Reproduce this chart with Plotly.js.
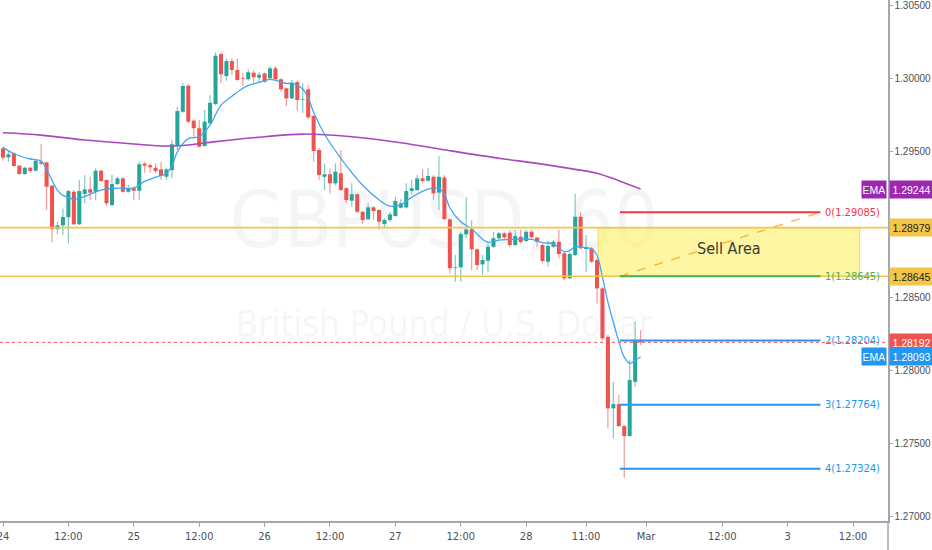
<!DOCTYPE html>
<html><head><meta charset="utf-8">
<script src="https://cdn.plot.ly/plotly-3.0.1.min.js"></script>
<style>html,body{margin:0;padding:0;background:#fff;}#chart{width:932px;height:550px;}</style>
</head><body><div id="chart"></div>
<script>
// ---- DATA (hourly GBPUSD bars) ----
const barOpen = [1.29523,1.29462,1.29489,1.29404,1.29347,1.29390,1.29370,1.29431,1.29427,1.29267,
1.28969,1.28995,1.29050,1.29225,1.29002,1.29210,1.29242,1.29225,1.29370,1.29306,
1.29134,1.29278,1.29317,1.29225,1.29249,1.29232,1.29418,1.29407,1.29390,1.29379,
1.29328,1.29374,1.29539,1.29774,1.29953,1.29713,1.29661,1.29539,1.29695,1.29827,
1.30170,1.30019,1.30122,1.30061,1.30004,1.29997,1.30042,1.30008,1.30038,1.30004,
1.30072,1.29997,1.29935,1.29866,1.29978,1.29855,1.29928,1.29745,1.29512,1.29328,
1.29345,1.29283,1.29352,1.29249,1.29164,1.29208,1.29088,1.29036,1.29118,1.29100,
1.29004,1.29031,1.29059,1.29116,1.29118,1.29230,1.29237,1.29317,1.29301,1.29328,
1.29219,1.29323,1.29036,1.28704,1.28707,1.28933,1.28967,1.28830,1.28727,1.28752,
1.28848,1.28906,1.28940,1.28944,1.28860,1.28917,1.28887,1.28951,1.28910,1.28860,
1.28745,1.28848,1.28882,1.28803,1.28631,1.28791,1.29054,1.28832,1.28837,1.28757,
1.28562,1.28230,1.27739,1.27768,1.27617,1.27549,1.27921,1.28203];
const barHigh = [1.29534,1.29500,1.29496,1.29409,1.29397,1.29397,1.29443,1.29553,1.29431,1.29271,
1.29020,1.29111,1.29237,1.29237,1.29306,1.29340,1.29328,1.29386,1.29374,1.29311,
1.29340,1.29328,1.29324,1.29271,1.29260,1.29431,1.29431,1.29420,1.29420,1.29431,
1.29386,1.29580,1.29809,1.29969,1.29965,1.29722,1.29717,1.29786,1.29889,1.30182,
1.30182,1.30141,1.30141,1.30141,1.30038,1.30066,1.30061,1.30049,1.30042,1.30088,
1.30088,1.30004,1.29942,1.29992,1.29987,1.29969,1.29958,1.29752,1.29525,1.29420,
1.29386,1.29420,1.29512,1.29256,1.29283,1.29214,1.29093,1.29146,1.29127,1.29105,
1.29043,1.29088,1.29191,1.29173,1.29283,1.29306,1.29340,1.29379,1.29386,1.29340,
1.29470,1.29340,1.29043,1.28791,1.28951,1.29187,1.29031,1.28837,1.28791,1.28871,
1.28951,1.28951,1.28951,1.28963,1.28963,1.28967,1.28963,1.28967,1.28917,1.28871,
1.28887,1.28894,1.28963,1.28814,1.28814,1.29210,1.29084,1.28928,1.28848,1.28770,
1.28573,1.28242,1.27921,1.27830,1.27624,1.28070,1.28333,1.28276];
const barLow = [1.29438,1.29431,1.29397,1.29340,1.29340,1.29356,1.29363,1.29409,1.29100,1.28878,
1.28933,1.28928,1.28871,1.28997,1.28997,1.29146,1.29168,1.29168,1.29294,1.29127,
1.29127,1.29271,1.29219,1.29219,1.29168,1.29168,1.29356,1.29356,1.29352,1.29306,
1.29306,1.29319,1.29512,1.29768,1.29695,1.29603,1.29530,1.29534,1.29690,1.29820,
1.29969,1.29987,1.30026,1.29987,1.29951,1.29987,1.29969,1.29973,1.29973,1.29997,
1.29992,1.29912,1.29814,1.29860,1.29781,1.29768,1.29722,1.29431,1.29306,1.29237,
1.29214,1.29271,1.29232,1.29146,1.29122,1.29077,1.29004,1.29031,1.29031,1.28963,
1.28974,1.29020,1.29054,1.29111,1.29111,1.29203,1.29232,1.29283,1.29294,1.29168,
1.29100,1.29031,1.28665,1.28608,1.28608,1.28906,1.28688,1.28688,1.28654,1.28676,
1.28837,1.28894,1.28899,1.28848,1.28853,1.28871,1.28882,1.28899,1.28848,1.28734,
1.28711,1.28837,1.28768,1.28619,1.28624,1.28784,1.28830,1.28676,1.28738,1.28459,
1.28208,1.27602,1.27533,1.27611,1.27263,1.27542,1.27887,1.28173];
const barClose = [1.29459,1.29482,1.29402,1.29347,1.29390,1.29368,1.29438,1.29418,1.29260,1.28969,
1.28995,1.29052,1.29230,1.29002,1.29230,1.29242,1.29219,1.29370,1.29299,1.29146,
1.29278,1.29317,1.29225,1.29249,1.29232,1.29414,1.29404,1.29393,1.29368,1.29333,
1.29379,1.29551,1.29779,1.29951,1.29706,1.29661,1.29534,1.29706,1.29836,1.30159,
1.30031,1.30122,1.30061,1.29992,1.29999,1.30045,1.30011,1.30028,1.29980,1.30072,
1.29997,1.29928,1.29866,1.29973,1.29855,1.29860,1.29736,1.29505,1.29340,1.29345,
1.29283,1.29363,1.29237,1.29168,1.29208,1.29088,1.29031,1.29118,1.29093,1.29020,
1.29031,1.29070,1.29162,1.29146,1.29230,1.29249,1.29317,1.29299,1.29333,1.29214,
1.29328,1.29038,1.28700,1.28709,1.28935,1.28967,1.28830,1.28722,1.28757,1.28848,
1.28906,1.28940,1.28913,1.28860,1.28922,1.28880,1.28951,1.28913,1.28882,1.28750,
1.28853,1.28882,1.28798,1.28631,1.28798,1.29054,1.28837,1.28846,1.28745,1.28562,
1.28219,1.27739,1.27768,1.27617,1.27549,1.27933,1.28203,1.28192];

// fast EMA (blue) and slow EMA (purple) read at selected bars
const emaFastBars = [0,2,5,7,8,10,11,13,15,18,21,24,26,28,30,31,32,34,36,38,40,42,44,45,47,49,51,52,53,55,56,57,59,62,66,69,71,73,75,78,80,81,82,84,86,88,89,91,94,97,99,101,103,104,105,107,108,109,110,111,112,113,114,115,116,117];
const emaFast = [1.29530,1.29486,1.29450,1.29436,1.29378,1.29235,1.29200,1.29175,1.29193,1.29237,1.29250,1.29252,1.29296,1.29325,1.29352,1.29400,1.29500,1.29590,1.29603,1.29683,1.29820,1.29880,1.29935,1.29955,1.29975,1.29997,1.29980,1.29968,1.29970,1.29930,1.29870,1.29770,1.29620,1.29455,1.29270,1.29170,1.29127,1.29136,1.29188,1.29244,1.29249,1.29210,1.29114,1.29020,1.28970,1.28900,1.28878,1.28893,1.28899,1.28899,1.28876,1.28868,1.28815,1.28822,1.28848,1.28841,1.28833,1.28790,1.28640,1.28470,1.28330,1.28200,1.28090,1.28048,1.28068,1.28093];
const emaSlowBars = [0,7,15,24,30,34,39,48,55,64,73,82,91,98,105,109,113,117];
const emaSlow = [1.29630,1.29614,1.29580,1.29553,1.29539,1.29546,1.29569,1.29603,1.29621,1.29603,1.29562,1.29507,1.29455,1.29420,1.29379,1.29352,1.29301,1.29244];

const tickBars = [0,12,24,36,48,60,72,84,96,107,118,132,144,156];
const tickLabels = ['24','12:00','25','12:00','26','12:00','27','12:00','28','11:00','Mar','12:00','3','12:00'];
const priceTicks = [1.270,1.275,1.280,1.285,1.295,1.300,1.305];

const sellZone = [1.28645, 1.28979];
const sellZoneBars = [109.2, 157.2];
const sellLabel = 'Sell Area';
const fibLevels = [1.29085, 1.28645, 1.28204, 1.27764, 1.27324];
const fibNames = ['0','1','2','3','4'];
const fibBars = [113.2, 150.0];
const lastPrice = 1.28192;
const emaSlowLast = 1.29244;
const emaFastLast = 1.28093;
const watermark = ['GBPUSD, 60', 'British Pound / U.S. Dollar'];

// ---- STYLE ----
const NARROW = "'DejaVu Sans Condensed','Liberation Sans Narrow','Liberation Sans',Arial,sans-serif";
const NUM = "'Liberation Sans Narrow','Liberation Sans',Arial,sans-serif";
const UP = '#26a69a', DOWN = '#ef5350';
const UP_WICK = '#7ccbc3', DOWN_WICK = '#f59a98';
const GOLD = '#f3c548';
const fibColors = ['#f23645', '#4caf50', '#2196f3', '#2196f3', '#2196f3'];
const AXIS = '#a3a6af', TXT = '#4c4f57';

const barIndex = barOpen.map((_, i) => i);
const isUp = barOpen.map((o, i) => barClose[i] >= o);
const bodyBase = barOpen.map((o, i) => Math.min(o, barClose[i]));
const bodyLen = barOpen.map((o, i) => Math.max(Math.abs(barClose[i] - o), 0.000012));
const wickLen = barHigh.map((h, i) => h - barLow[i]);

const traces = [
  {type:'scatter', mode:'lines', x: emaSlowBars, y: emaSlow, line:{color:'#ab47bc', width:1.6, shape:'spline'}, hoverinfo:'skip'},
  {type:'bar', name:'wick', x: barIndex, base: barLow, y: wickLen, width:0.22,
   marker:{color: isUp.map(u => u ? UP_WICK : DOWN_WICK), line:{width:0}}, hoverinfo:'skip'},
  {type:'bar', name:'body', x: barIndex, base: bodyBase, y: bodyLen, width:0.74,
   marker:{color: isUp.map(u => u ? UP : DOWN), line:{width:0}}, hoverinfo:'skip'},
  {type:'scatter', mode:'lines', x: emaFastBars, y: emaFast, line:{color:'#42a5f5', width:1.3, shape:'spline'}, hoverinfo:'skip'}
];

const shapes = [];
// watermark (below everything)
shapes.push({type:'rect', xref:'paper', yref:'paper', x0:0.15, x1:0.85, y0:0.50, y1:0.68, layer:'below',
  line:{width:0}, fillcolor:'rgba(0,0,0,0)',
  label:{text:watermark[0], textposition:'middle center', font:{family:NARROW, size:78, color:'rgba(120,123,134,0.08)'}}});
shapes.push({type:'rect', xref:'paper', yref:'paper', x0:0.15, x1:0.85, y0:0.34, y1:0.43, layer:'below',
  line:{width:0}, fillcolor:'rgba(0,0,0,0)',
  label:{text:watermark[1], textposition:'middle center', font:{family:NARROW, size:36, color:'rgba(120,123,134,0.08)'}}});
// sell area
shapes.push({type:'rect', xref:'x', yref:'y', x0:sellZoneBars[0], x1:sellZoneBars[1], y0:sellZone[0], y1:sellZone[1],
  layer:'below', fillcolor:'rgba(255,238,88,0.55)', line:{color:'#f7d94c', width:1}});
// gold horizontal levels
sellZone.forEach(v => shapes.push({type:'line', xref:'paper', yref:'y', x0:0, x1:1, y0:v, y1:v, line:{color:GOLD, width:1.6}}));
// last price dotted line
shapes.push({type:'line', xref:'paper', yref:'y', x0:0, x1:1, y0:lastPrice, y1:lastPrice, line:{color:DOWN, width:1, dash:'dot'}});
// fib trend line
shapes.push({type:'line', xref:'x', yref:'y', x0:fibBars[0], x1:fibBars[1], y0:fibLevels[1], y1:fibLevels[0],
  line:{color:'#f5b335', width:1.3, dash:'dash'}});
// fib levels
fibLevels.forEach((v, k) => shapes.push({type:'line', xref:'x', yref:'y', x0:fibBars[0], x1:fibBars[1], y0:v, y1:v,
  line:{color:fibColors[k], width:2}}));
// axis line extension
shapes.push({type:'line', xref:'paper', yref:'paper', x0:1, x1:1, y0:-0.06, y1:0, line:{color:AXIS, width:1.5}});

const annotations = [];
annotations.push({xref:'x', yref:'y', x:(sellZoneBars[0]+sellZoneBars[1])/2, y:(sellZone[0]+sellZone[1])/2, yshift:3,
  text:sellLabel, showarrow:false, font:{family:NARROW, size:16, color:'#3a3a3a'}});
fibLevels.forEach((v, k) => annotations.push({xref:'x', yref:'y', x:fibBars[1], y:v, xanchor:'left', xshift:3,
  text:fibNames[k] + '(' + v.toFixed(5) + ')', showarrow:false, font:{family:NARROW, size:11, color:fibColors[k]}}));

function priceBox(v, bg, fg) {
  annotations.push({xref:'paper', yref:'y', x:1, y:v, xanchor:'left', xshift:1, yanchor:'middle',
    text:v.toFixed(5), showarrow:false, bgcolor:bg, width:41, height:15, borderpad:1, align:'center',
    font:{family:NUM, size:10.5, color:fg}});
}
function emaTag(v, bg) {
  annotations.push({xref:'paper', yref:'y', x:1, y:v, xanchor:'right', xshift:-1, yanchor:'middle',
    text:'EMA', showarrow:false, bgcolor:bg, width:22, height:15, borderpad:1, align:'center',
    font:{family:NUM, size:10.5, color:'#ffffff'}});
}
priceBox(emaSlowLast, '#9c27b0', '#ffffff'); emaTag(emaSlowLast, '#9c27b0');
priceBox(sellZone[1], GOLD, '#1e1e1e');
priceBox(sellZone[0], GOLD, '#1e1e1e');
priceBox(lastPrice, DOWN, '#ffffff');
priceBox(emaFastLast, '#2196f3', '#ffffff'); emaTag(emaFastLast, '#2196f3');

const layout = {
  width:932, height:550,
  margin:{l:0, r:44, t:0, b:29},
  paper_bgcolor:'#ffffff', plot_bgcolor:'#ffffff',
  showlegend:false, dragmode:false, hovermode:false, barmode:'overlay',
  xaxis:{type:'linear', range:[-0.55, 162.4], rangeslider:{visible:false},
    tickmode:'array', tickvals:tickBars, ticktext:tickLabels, ticklabeloverflow:'allow',
    showgrid:false, zeroline:false, showline:true, linecolor:AXIS, linewidth:1.5,
    ticks:'outside', ticklen:4, tickcolor:AXIS, tickfont:{family:NARROW, size:11, color:TXT}},
  yaxis:{side:'right', range:[1.26966, 1.30541], tickmode:'array', tickvals:priceTicks,
    ticktext:priceTicks.map(v => v.toFixed(5)), ticklabeloverflow:'allow',
    showgrid:false, zeroline:false, showline:true, linecolor:AXIS, linewidth:1.5,
    ticks:'outside', ticklen:3, tickcolor:AXIS, tickfont:{family:NUM, size:10, color:TXT}},
  shapes: shapes,
  annotations: annotations
};

Plotly.newPlot('chart', traces, layout, {displayModeBar:false, staticPlot:true});
</script>
</body></html>
